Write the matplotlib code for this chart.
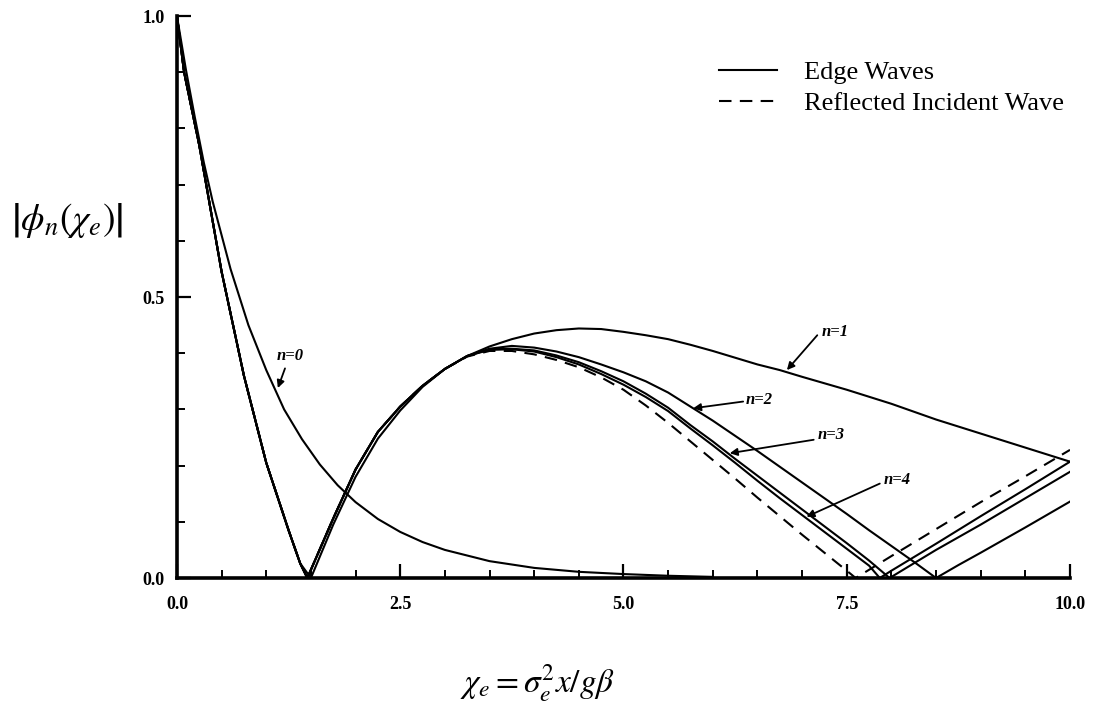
import numpy as np
import matplotlib
matplotlib.use('Agg')
import matplotlib.pyplot as plt
from matplotlib.ticker import MultipleLocator

plt.rcParams['font.family'] = ['Liberation Serif', 'DejaVu Serif']
plt.rcParams['mathtext.fontset'] = 'stix'

# n=0 edge wave (monotonic decay)
x_n0 = [0.0, 0.1, 0.2, 0.3, 0.4, 0.5, 0.6, 0.7, 0.8, 0.9, 1.0, 1.2, 1.4, 1.6, 1.8, 2.0,
        2.25, 2.5, 2.75, 3.0, 3.5, 4.0, 4.5, 5.0, 5.5, 6.0]
y_n0 = [1.0, 0.905, 0.82, 0.74, 0.67, 0.61, 0.55, 0.50, 0.45, 0.41, 0.37, 0.30, 0.247, 0.202, 0.165, 0.135,
        0.105, 0.082, 0.064, 0.05, 0.03, 0.018, 0.011, 0.007, 0.004, 0.002]

# shared first lobe of the higher modes
x_lobe = [0.0, 0.08, 0.25, 0.5, 0.75, 1.0, 1.25, 1.38]
y_lobe = [1.0, 0.90, 0.77, 0.545, 0.36, 0.205, 0.085, 0.026]

x_n1 = x_lobe + [1.5, 1.75, 2.0, 2.25, 2.5, 2.75, 3.0, 3.25, 3.5, 3.75, 4.0, 4.25, 4.5, 4.75,
                 5.0, 5.25, 5.5, 5.75, 6.0, 6.25, 6.5, 6.75, 7.0, 7.5, 8.0, 8.5, 9.0, 9.5, 10.0]
y_n1 = y_lobe + [0.0, 0.095, 0.18, 0.248, 0.298, 0.34, 0.372, 0.395, 0.412, 0.425, 0.435, 0.441, 0.444, 0.443,
                 0.438, 0.432, 0.425, 0.415, 0.404, 0.392, 0.38, 0.37, 0.358, 0.335, 0.31, 0.282, 0.257, 0.232, 0.207]

x_rise = [1.46, 1.75, 2.0, 2.25, 2.5, 2.75, 3.0, 3.25, 3.5, 3.75]

x_n2 = x_lobe + x_rise + [4.0, 4.25, 4.5, 4.75, 5.0, 5.25, 5.5, 5.75, 6.0, 6.25, 6.5, 6.75, 7.0,
                          7.25, 7.5, 7.75, 8.0, 8.25, 8.5, 8.75, 9.0, 9.5, 10.0]
y_n2 = y_lobe + [0.0, 0.106, 0.193, 0.26, 0.305, 0.342, 0.372, 0.395, 0.408, 0.413,
                 0.41, 0.403, 0.393, 0.38, 0.366, 0.35, 0.33, 0.305, 0.28, 0.253, 0.226, 0.198, 0.17,
                 0.142, 0.114, 0.085, 0.057, 0.029, 0.0, 0.023, 0.045, 0.09, 0.136]

x_n3 = x_lobe + x_rise + [4.0, 4.25, 4.5, 4.75, 5.0, 5.25, 5.5, 5.75, 6.0, 6.25, 6.5, 6.75, 7.0,
                          7.25, 7.5, 7.75, 7.98, 8.25, 8.5, 9.0, 9.5, 10.0]
y_n3 = y_lobe + [0.0, 0.106, 0.193, 0.26, 0.305, 0.342, 0.372, 0.395, 0.407, 0.408,
                 0.405, 0.396, 0.384, 0.368, 0.35, 0.328, 0.303, 0.272, 0.243, 0.212, 0.182, 0.152, 0.122,
                 0.092, 0.062, 0.031, 0.0, 0.026, 0.05, 0.095, 0.142, 0.189]

x_n4 = x_lobe + x_rise + [4.0, 4.25, 4.5, 4.75, 5.0, 5.25, 5.5, 5.75, 6.0, 6.25, 6.5, 6.75, 7.0,
                          7.25, 7.5, 7.75, 7.87, 8.0, 8.5, 9.0, 9.5, 10.0]
y_n4 = y_lobe + [0.0, 0.106, 0.193, 0.26, 0.305, 0.342, 0.372, 0.395, 0.406, 0.407,
                 0.403, 0.393, 0.38, 0.363, 0.344, 0.322, 0.297, 0.266, 0.236, 0.205, 0.173, 0.142, 0.112,
                 0.082, 0.052, 0.022, 0.0, 0.013, 0.061, 0.11, 0.158, 0.207]

# reflected incident wave
x_ref = x_lobe + x_rise + [4.0, 4.25, 4.5, 4.75, 5.0, 5.25, 5.5, 5.75, 6.0, 6.25, 6.5, 6.75, 7.0,
                           7.25, 7.5, 7.6, 8.0, 8.5, 9.0, 9.5, 10.0]
y_ref = y_lobe + [0.0, 0.106, 0.193, 0.26, 0.305, 0.342, 0.372, 0.394, 0.404, 0.404,
                  0.398, 0.388, 0.375, 0.357, 0.335, 0.307, 0.276, 0.243, 0.21, 0.177, 0.143, 0.11, 0.077,
                  0.045, 0.013, 0.0, 0.039, 0.087, 0.135, 0.181, 0.228]

# curve labels: text, text centre, arrow tail, arrow tip
labels = ['n=0', 'n=1', 'n=2', 'n=3', 'n=4']
label_xy = [(1.27, 0.395), (7.37, 0.438), (6.52, 0.317), (7.33, 0.254), (8.07, 0.174)]
arrow_tail = [(1.21, 0.373), (7.17, 0.432), (6.34, 0.314), (7.13, 0.246), (7.87, 0.168)]
arrow_tip = [(1.13, 0.338), (6.83, 0.37), (5.78, 0.302), (6.19, 0.222), (7.05, 0.109)]

fig = plt.figure(figsize=(10.97, 7.12), dpi=100)
ax = fig.add_axes([0.1613, 0.1882, 0.8141, 0.7893])

lw = 1.5
ax.plot(x_n0, y_n0, color='k', linewidth=lw)
ax.plot(x_n1, y_n1, color='k', linewidth=lw, label='Edge Waves')
ax.plot(x_n2, y_n2, color='k', linewidth=lw)
ax.plot(x_n3, y_n3, color='k', linewidth=lw)
ax.plot(x_n4, y_n4, color='k', linewidth=lw)
ax.plot(x_ref, y_ref, color='k', linewidth=lw, linestyle=(0, (6, 4)), label='Reflected Incident Wave')

for txt, pos, tail, tip in zip(labels, label_xy, arrow_tail, arrow_tip):
    ax.text(pos[0], pos[1], txt, ha='center', va='center', fontsize=12,
            fontstyle='italic', fontweight='bold')
    ax.annotate('', xy=tip, xytext=tail,
                arrowprops=dict(arrowstyle='-|>', color='k', lw=1.3, mutation_scale=11,
                                shrinkA=0, shrinkB=0))

ax.set_xlim(0, 10)
ax.set_ylim(0, 1.0)
ax.spines['top'].set_visible(False)
ax.spines['right'].set_visible(False)
ax.spines['left'].set_linewidth(2.6)
ax.spines['bottom'].set_linewidth(2.6)

ax.set_xticks([0, 2.5, 5.0, 7.5, 10.0])
ax.set_xticklabels(['0.0', '2.5', '5.0', '7.5', '10.0'])
ax.set_yticks([0.0, 0.5, 1.0])
ax.set_yticklabels(['0.0', '0.5', '1.0'])
ax.xaxis.set_minor_locator(MultipleLocator(0.5))
ax.yaxis.set_minor_locator(MultipleLocator(0.1))
ax.tick_params(axis='both', which='major', direction='in', length=10, width=1.6, labelsize=13)
ax.tick_params(axis='both', which='minor', direction='in', length=5.5, width=1.4)
ax.tick_params(axis='x', pad=13)
ax.tick_params(axis='y', pad=9)
for lab in ax.get_xticklabels() + ax.get_yticklabels():
    lab.set_fontweight('bold')

fig.legend(handles=ax.get_lines()[1::4], loc='upper left', bbox_to_anchor=(0.655, 0.915),
           frameon=False, fontsize=19, borderpad=0, borderaxespad=0,
           handlelength=2.2, handletextpad=1.05, labelspacing=0.3)

fig.text(0.061, 0.69, r'$\left|\phi_n(\chi_e)\right|$', fontsize=27, ha='center', va='center')
fig.text(0.49, 0.04, r'$\chi_e = \sigma_e^2 x / g\beta$', fontsize=24, ha='center', va='center')

fig.savefig('out.png', dpi=100)
